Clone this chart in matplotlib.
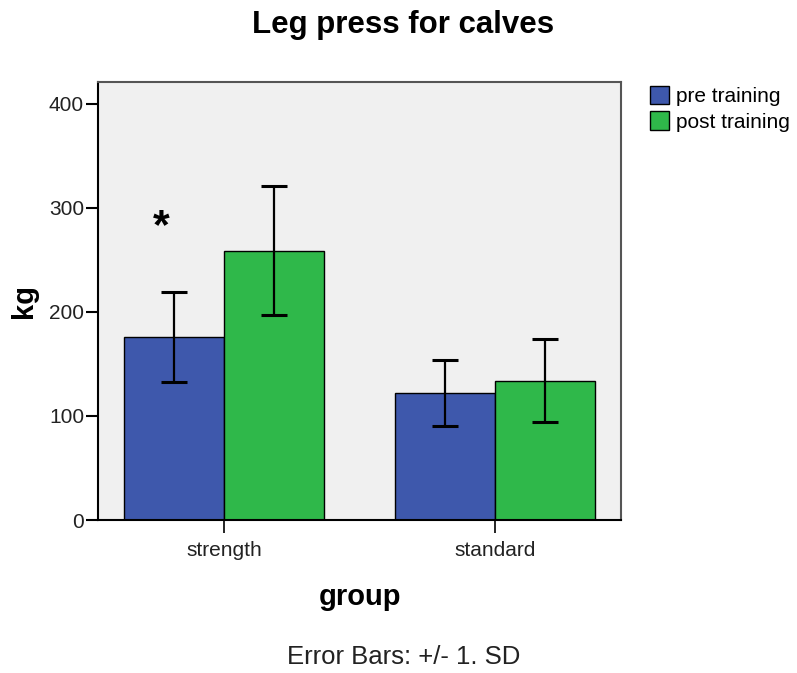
import matplotlib
matplotlib.use("Agg")
import matplotlib.pyplot as plt
import numpy as np
from matplotlib.patches import Patch

plt.rcParams['font.family'] = ['Liberation Sans', 'DejaVu Sans']

groups = ["strength", "standard"]
series = ["pre training", "post training"]
pre_means = [176, 122]
pre_sd = [43, 32]
post_means = [259, 134]
post_sd = [62, 40]
colors = ["#3e58ac", "#2fb84a"]
yticks = [0, 100, 200, 300, 400]

W, H = 797, 673
fig = plt.figure(figsize=(W / 100, H / 100), dpi=100)
ax = fig.add_axes([98 / W, 1 - 520 / H, (621 - 98) / W, (520 - 82) / H])
ax.set_facecolor("#f0f0f0")

x = np.arange(len(groups))
bw = 100 / 271
err_kw = dict(ecolor="black", elinewidth=1.6, capsize=9.5, capthick=2.2)
ax.bar(x - bw / 2, pre_means, bw, yerr=pre_sd, color=colors[0], edgecolor="black",
       linewidth=1.0, error_kw=err_kw, zorder=2)
ax.bar(x + bw / 2, post_means, bw, yerr=post_sd, color=colors[1], edgecolor="black",
       linewidth=1.0, error_kw=err_kw, zorder=2)

ax.set_xlim(-126 / 271, 1 + 126 / 271)
ax.set_ylim(0, 421)
ax.set_yticks(yticks)
ax.set_yticklabels([str(v) for v in yticks], fontsize=15, color="#222222")
ax.set_xticks(x)
ax.set_xticklabels(groups, fontsize=15, color="#222222")
ax.tick_params(axis="y", direction="out", length=9, width=1.5, pad=1)
ax.tick_params(axis="x", direction="out", length=9, width=1.2, pad=6)

for s in ["left", "bottom"]:
    ax.spines[s].set_color("black")
    ax.spines[s].set_linewidth(1.5)
for s in ["top", "right"]:
    ax.spines[s].set_color("#555555")
    ax.spines[s].set_linewidth(1.5)

ax.text(-0.23, 282, "*", fontsize=31, fontweight="bold", ha="center", va="center")

fig.text(24 / W, 1 - 301 / H, "kg", fontsize=21, fontweight="bold", rotation=90,
         ha="center", va="center")
fig.text(360 / W, 1 - 597 / H, "group", fontsize=21, fontweight="bold",
         ha="center", va="center")
fig.text(403 / W, 1 - 25 / H, "Leg press for calves", fontsize=22.5, fontweight="bold",
         ha="center", va="center")
fig.text(404 / W, 1 - 657 / H, "Error Bars: +/- 1. SD", fontsize=18.5,
         ha="center", va="center", color="#222222")

handles = [Patch(facecolor=c, edgecolor="black", linewidth=1.0) for c in colors]
fig.legend(handles, series, loc="upper left", bbox_to_anchor=(635 / W, 1 - 71 / H),
           frameon=False, fontsize=15, handlelength=0.95, handleheight=1.0,
           handletextpad=0.3, labelspacing=0.25, borderpad=0.2)

fig.savefig("out.png", dpi=100)
